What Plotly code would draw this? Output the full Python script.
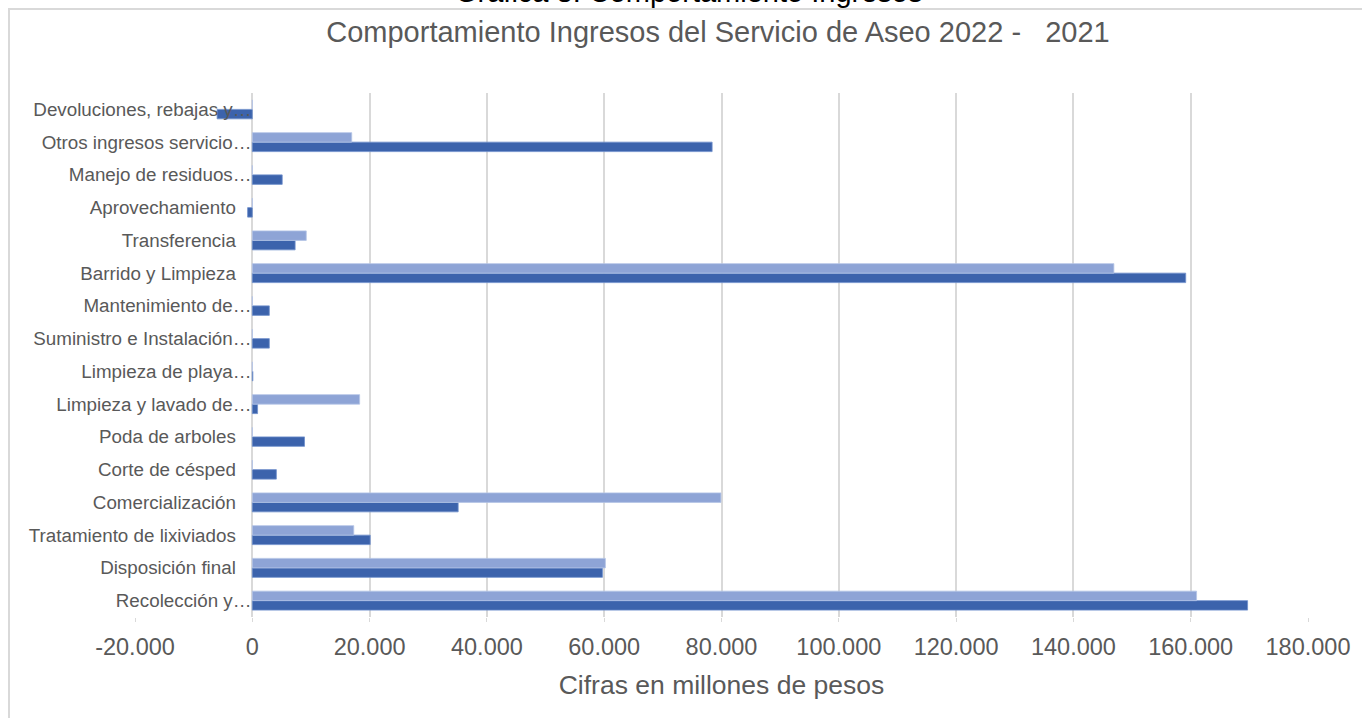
import plotly.graph_objects as go

categories = ["Recolección y…", "Disposición final", "Tratamiento de lixiviados", "Comercialización",
              "Corte de césped", "Poda de arboles", "Limpieza y lavado de…", "Limpieza de playa…",
              "Suministro e Instalación…", "Mantenimiento de…", "Barrido y Limpieza", "Transferencia",
              "Aprovechamiento", "Manejo de residuos…", "Otros ingresos servicio…", "Devoluciones, rebajas y…"]
v2022 = [169700, 59700, 20100, 35100, 4100, 8900, 900, 100, 2900, 2900, 159150, 7300, -800, 5100, 78400, -6000]
v2021 = [161000, 60200, 17300, 79900, 0, 0, 18300, 0, 0, 0, 146900, 9200, 0, 0, 16950, 0]
x_ticks = [-20000, 0, 20000, 40000, 60000, 80000, 100000, 120000, 140000, 160000, 180000]
x_tick_labels = ["-20.000", "0", "20.000", "40.000", "60.000", "80.000", "100.000",
                 "120.000", "140.000", "160.000", "180.000"]

# tick text: full labels sit slightly further from the axis than truncated ones
tick_text = [c if c.endswith("…") else c + "\u00a0\u00a0\u00a0" for c in categories]

W, H = 1362, 718
L, R, T, B = 135, 54, 93, 101
pw, ph = W - L - R, H - T - B

def px_to_paper_x(p):
    return (p - L) / pw

def px_to_paper_y(p):
    return 1 + (T - p) / ph

grey = "#595959"
font = "Liberation Sans, Arial"

fig = go.Figure()
fig.add_trace(go.Bar(name="2022", y=categories, x=v2022, orientation="h",
                     marker=dict(color="#3C63AC", line=dict(color="#6F8FCB", width=0.8))))
fig.add_trace(go.Bar(name="2021", y=categories, x=v2021, orientation="h",
                     marker=dict(color="#8EA4D6", line=dict(color="#B4C4E6", width=0.8))))

fig.update_layout(
    width=W, height=H,
    margin=dict(l=L, r=R, t=T, b=B, autoexpand=False),
    paper_bgcolor="white", plot_bgcolor="white",
    barmode="group", bargap=0.42, bargroupgap=0,
    showlegend=False,
    title=dict(text="Comportamiento Ingresos del Servicio de Aseo 2022 -   2021",
               x=718 / W, xanchor="center", y=1 - 32 / H, yanchor="middle",
               font=dict(family=font, size=29, color=grey)),
    xaxis=dict(range=[-20000, 180000], tickvals=x_ticks, ticktext=x_tick_labels,
               automargin=False,
               showgrid=True, gridcolor="#D9D9D9", gridwidth=1.5, zeroline=False,
               showline=False, ticks="outside", ticklen=4, tickcolor="#D9D9D9",
               ticklabelstandoff=5,
               tickfont=dict(family=font, size=23.5, color=grey),
               title=dict(text="Cifras en millones de pesos", standoff=16,
                          font=dict(family=font, size=26.5, color=grey))),
    yaxis=dict(type="category", categoryorder="array", categoryarray=categories,
               tickvals=categories, ticktext=tick_text, automargin=False,
               anchor="free", position=px_to_paper_x(252.5),
               showgrid=False, zeroline=False, showline=False, ticks="",
               ticklabelstandoff=1,
               tickfont=dict(family=font, size=18.8, color=grey)),
    shapes=[dict(type="rect", xref="paper", yref="paper",
                 x0=px_to_paper_x(9), x1=px_to_paper_x(W + 20),
                 y0=px_to_paper_y(H + 20), y1=px_to_paper_y(9),
                 line=dict(color="#D9D9D9", width=2), layer="below")],
    annotations=[dict(text="Grafica 8. Comportamiento Ingresos", xref="paper", yref="paper",
                      x=px_to_paper_x(688), y=px_to_paper_y(-8), xanchor="center", yanchor="middle",
                      showarrow=False, font=dict(family=font, size=29, color="black"))],
)

fig.write_html("out.html", config={"displayModeBar": False},
               post_script="document.body.style.margin='0';document.body.style.overflow='hidden';")
